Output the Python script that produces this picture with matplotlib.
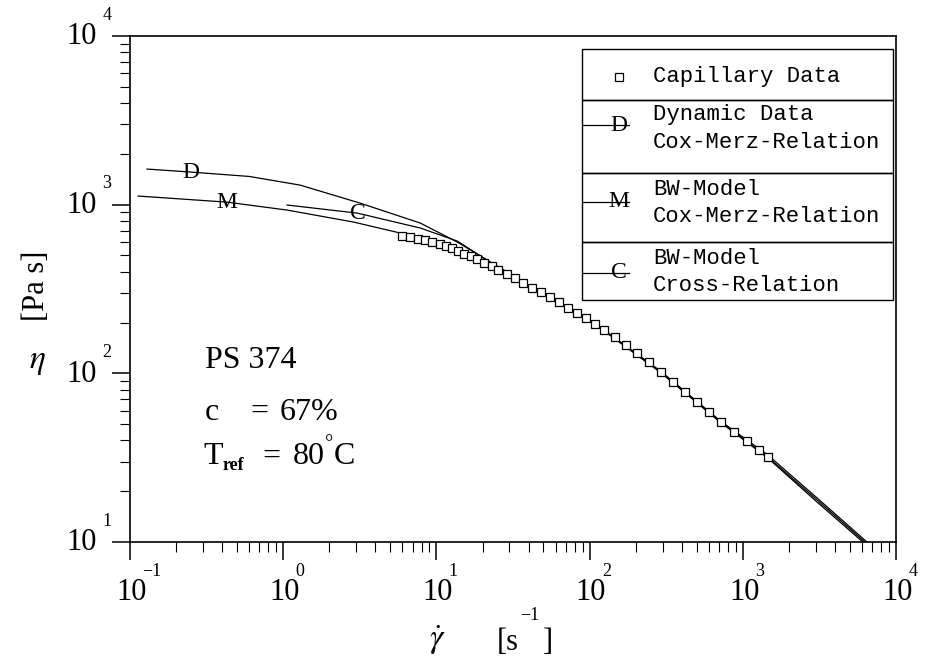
import numpy as np
import matplotlib.pyplot as plt
from matplotlib.ticker import LogLocator, NullFormatter
from matplotlib.lines import Line2D
from matplotlib.patches import Rectangle

plt.rcParams['font.family'] = 'Liberation Serif'
plt.rcParams['mathtext.fontset'] = 'stix'

# capillary viscometer data, shear rate [1/s] and viscosity [Pa s]
cap_rate = [6.00, 6.76, 7.62, 8.47, 9.42, 10.5, 11.6, 12.7, 13.9, 15.2, 16.7,
            18.5, 20.6, 22.9, 25.4, 28.7, 32.4, 36.5, 41.8, 47.9, 54.8, 62.7,
            71.8, 82.2, 94.2, 108, 125, 146, 172, 203, 243, 291, 349, 418,
            500, 600, 718, 873, 1062, 1273, 1456]
cap_eta = [652, 643, 626, 617, 600, 584, 569, 553, 531, 510, 496,
           476, 451, 433, 410, 388, 367, 343, 320, 303, 283, 265,
           244, 228, 213, 196, 181, 164, 147, 132, 117, 102, 88.8, 77.5,
           67.6, 59.0, 51.4, 44.9, 39.7, 35.1, 31.9]

# dynamic data with Cox-Merz
dyn_rate = [0.129, 0.25, 0.6, 1.29, 3.18, 7.85, 13.7, 22.5, 47.9, 108, 291,
            718, 1456, 3000, 6457]
dyn_eta = [1626, 1560, 1470, 1306, 1021, 778, 600, 457, 303, 198, 103,
           52, 32.8, 18.5, 10]

# BW model, Cox-Merz
bwm_rate = [0.113, 0.43, 1.06, 2.87, 5.8, 10.6, 19.4, 47.9, 108, 291, 718,
            1456, 3000, 6081]
bwm_eta = [1125, 1035, 929, 789, 679, 569, 463, 300, 196, 101, 51,
           31.5, 17.5, 10]

# BW model, Cross relation
bwc_rate = [1.06, 3.05, 7.85, 13.7, 22.5, 47.9, 108, 291, 718, 1456, 3000, 6266]
bwc_eta = [995, 891, 727, 608, 455, 302, 197, 102, 51.5, 31.9, 18.0, 10]

# curve label positions (on the curves)
tags = [('D', 0.25, 1560), ('M', 0.43, 1035), ('C', 3.05, 891)]

decades = [-1, 0, 1, 2, 3, 4]
eta_decades = [1, 2, 3, 4]

fig = plt.figure(figsize=(9.36, 6.70), dpi=100)
ax = fig.add_axes([130 / 936, 128 / 670, 766 / 936, 506 / 670])
ax.set_xscale('log')
ax.set_yscale('log')
ax.set_xlim(0.1, 1e4)
ax.set_ylim(10, 1e4)

lw = 0.9
ax.plot(dyn_rate, dyn_eta, color='black', lw=lw)
ax.plot(bwm_rate, bwm_eta, color='black', lw=lw)
ax.plot(bwc_rate, bwc_eta, color='black', lw=lw)
ax.plot(cap_rate, cap_eta, ls='none', marker='s', ms=5.5, mfc='white',
        mec='black', mew=0.9)

for t, x, y in tags:
    ax.text(x, y, t, fontsize=17, ha='center', va='center')

# axes frame and ticks
for s in ax.spines.values():
    s.set_linewidth(1.2)
ax.xaxis.set_minor_locator(LogLocator(base=10, subs=np.arange(2, 10), numticks=100))
ax.yaxis.set_minor_locator(LogLocator(base=10, subs=np.arange(2, 10), numticks=100))
ax.xaxis.set_minor_formatter(NullFormatter())
ax.yaxis.set_minor_formatter(NullFormatter())
ax.tick_params(which='major', direction='out', length=13, width=1.1)
ax.tick_params(which='minor', direction='out', length=7, width=0.8)
ax.tick_params(labelbottom=False, labelleft=False, top=False, right=False)

# power-of-ten tick labels
for d in decades:
    ax.annotate('10', xy=(10.0 ** d, 0), xycoords=('data', 'axes fraction'),
                xytext=(1, -36), textcoords='offset points',
                ha='center', va='center', fontsize=22)
    ax.annotate(str(d).replace('-', '\u2212'), xy=(10.0 ** d, 0),
                xycoords=('data', 'axes fraction'),
                xytext=(9, -21.5), textcoords='offset points',
                ha='left', va='center', fontsize=13)
for d in eta_decades:
    ax.annotate('10', xy=(0, 10.0 ** d), xycoords=('axes fraction', 'data'),
                xytext=(-24, -0.7), textcoords='offset points',
                ha='right', va='center', fontsize=22)
    ax.annotate(str(d), xy=(0, 10.0 ** d), xycoords=('axes fraction', 'data'),
                xytext=(-20, 15), textcoords='offset points',
                ha='left', va='center', fontsize=13)

# axis titles
fig.text(37 / 936, 1 - 362 / 670, r'$\eta$', fontsize=24, ha='center', va='center')
fig.text(37 / 936, 1 - 286 / 670, '[Pa s]', fontsize=22, ha='center',
         va='center', rotation=90)
fig.text(437 / 936, 1 - 640 / 670, r'$\dot{\gamma}$', fontsize=24,
         ha='center', va='center')
fig.text(497 / 936, 1 - 643 / 670, '[s', fontsize=22, ha='left', va='center')
fig.text(520 / 936, 1 - 615 / 670, '\u22121', fontsize=13, ha='left', va='center')
fig.text(543 / 936, 1 - 643 / 670, ']', fontsize=22, ha='left', va='center')

# sample description
txt = dict(fontsize=23, va='center', transform=fig.transFigure)
fig.text(205 / 936, 1 - 360 / 670, 'PS 374', **txt)
fig.text(205 / 936, 1 - 412 / 670, 'c', **txt)
fig.text(250 / 936, 1 - 412 / 670, '=', **txt)
fig.text(280 / 936, 1 - 412 / 670, '67%', **txt)
fig.text(203 / 936, 1 - 457 / 670, 'T', **txt)
fig.text(223 / 936, 1 - 466 / 670, 'ref', fontsize=13, fontweight='bold',
         va='center')
fig.text(262 / 936, 1 - 457 / 670, '=', **txt)
fig.text(293 / 936, 1 - 457 / 670, '80', **txt)
fig.text(325 / 936, 1 - 445 / 670, '\u00b0', fontsize=15, va='center')
fig.text(334 / 936, 1 - 457 / 670, 'C', **txt)

# legend drawn as a boxed table, axes-fraction coordinates
lx0, lx1 = 0.590, 0.996
rows = [0.974, 0.874, 0.729, 0.593, 0.478]
for i in range(len(rows) - 1):
    ax.add_patch(Rectangle((lx0, rows[i + 1]), lx1 - lx0, rows[i] - rows[i + 1],
                           transform=ax.transAxes, fill=False, lw=1.0,
                           ec='black', zorder=5))
sym_x = 0.638
txt_x = 0.683
mono = dict(family='Liberation Mono', fontsize=16, va='center',
            transform=ax.transAxes, zorder=6)
ax.plot([sym_x], [0.919], transform=ax.transAxes, ls='none', marker='s',
        ms=5.5, mfc='white', mec='black', mew=0.9, zorder=6)
ax.text(txt_x, 0.919, 'Capillary Data', **mono)

entries = [('D', 0.824, 'Dynamic Data', 'Cox-Merz-Relation', 0.845, 0.790),
           ('M', 0.672, 'BW-Model', 'Cox-Merz-Relation', 0.697, 0.644),
           ('C', 0.532, 'BW-Model', 'Cross-Relation', 0.560, 0.506)]
for tag, ly, l1, l2, y1, y2 in entries:
    ax.add_line(Line2D([0.591, 0.651], [ly, ly], transform=ax.transAxes,
                       color='black', lw=lw, zorder=6))
    ax.text(sym_x, ly, tag, fontsize=17, ha='center', va='center',
            transform=ax.transAxes, zorder=6)
    ax.text(txt_x, y1, l1, **mono)
    ax.text(txt_x, y2, l2, **mono)

fig.savefig('out.png', dpi=100)
